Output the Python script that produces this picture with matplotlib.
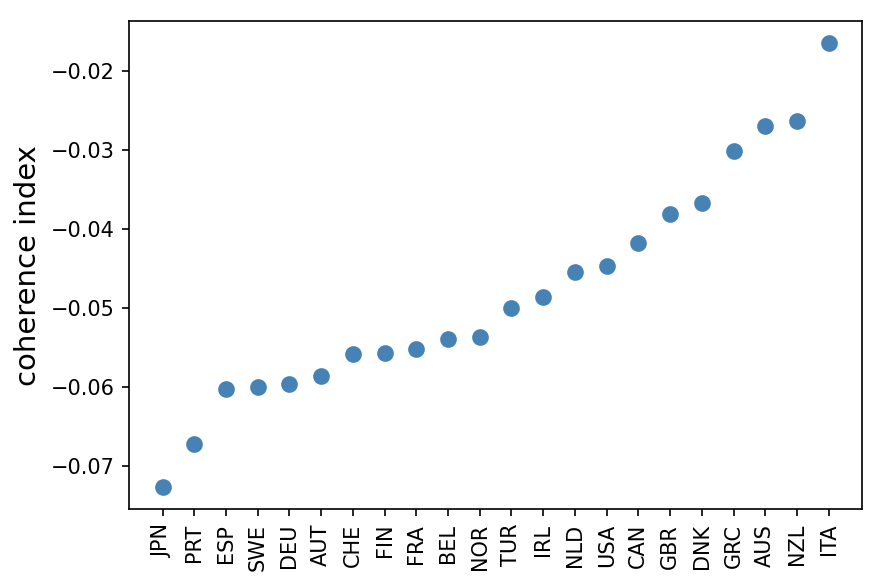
import matplotlib
matplotlib.use("Agg")
import matplotlib.pyplot as plt

countries = ["JPN", "PRT", "ESP", "SWE", "DEU", "AUT", "CHE", "FIN", "FRA", "BEL", "NOR",
             "TUR", "IRL", "NLD", "USA", "CAN", "GBR", "DNK", "GRC", "AUS", "NZL", "ITA"]
coherence = [-0.0727, -0.0672, -0.0603, -0.0600, -0.0596, -0.0586, -0.0558, -0.0557,
             -0.0552, -0.0540, -0.0537, -0.0500, -0.0486, -0.0455, -0.0447, -0.0418,
             -0.0381, -0.0367, -0.0302, -0.0270, -0.0264, -0.0165]

fig = plt.figure(figsize=(5.9, 3.907), dpi=150)
ax = fig.add_axes([0.146, 0.131, 0.828, 0.833])

ax.plot(range(len(countries)), coherence, "o", color="steelblue", markersize=7)
ax.set_xticks(range(len(countries)))
ax.set_xticklabels(countries, rotation=90)
ax.set_ylabel("coherence index", fontsize=14)

fig.savefig("out.png", dpi=150)
